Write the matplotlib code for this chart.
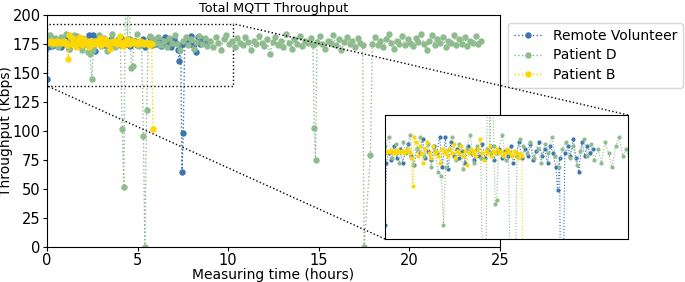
import matplotlib
matplotlib.use("Agg")
import matplotlib.pyplot as plt
from mpl_toolkits.axes_grid1.inset_locator import mark_inset

# ---------------- data ----------------
series_names = ["Remote Volunteer", "Patient D", "Patient B"]
series_colors = ["#3a75b0", "#8fbc8f", "#ffd700"]

rv_time = [0.0, 0.06, 0.15, 0.27, 0.39, 0.51, 0.63, 0.75, 0.87, 0.99, 1.11, 1.23, 1.35, 1.47,
           1.59, 1.71, 1.83, 1.95, 2.07, 2.19, 2.31, 2.43, 2.55, 2.67, 2.79, 2.91, 3.03, 3.15,
           3.27, 3.39, 3.51, 3.63, 3.75, 3.87, 3.99, 4.11, 4.23, 4.35, 4.47, 4.59, 4.71, 4.83,
           4.95, 5.07, 5.19, 5.31, 5.43, 5.55, 5.67, 5.79, 5.91, 6.03, 6.15, 6.27, 6.39, 6.51,
           6.63, 6.75, 6.87, 6.99, 7.11, 7.22, 7.3, 7.38, 7.45, 7.52, 7.6, 7.72, 7.84, 7.96,
           8.08, 8.2, 8.32, 8.44, 8.56, 8.68, 8.8]
rv_vals = [145, 172, 176, 173, 179, 174, 178, 172, 177, 180, 175, 171, 178, 176,
           182, 174, 177, 173, 179, 176, 183, 170, 183, 169, 181, 175, 178, 174,
           177, 172, 179, 176, 173, 178, 175, 180, 174, 177, 179, 173, 176, 178,
           174, 177, 175, 179, 172, 176, 181, 174, 178, 175, 180, 173, 177, 181,
           175, 178, 172, 179, 176, 170, 160, 174, 65, 98, 176, 179, 175, 182,
           174, 168, 181, 175, 179, 176, 178]

pd_time = [0.0, 0.15, 0.3, 0.45, 0.6, 0.75, 0.9, 1.05, 1.2, 1.35, 1.5, 1.65, 1.8, 1.95, 2.1, 2.25,
           2.38, 2.47, 2.56, 2.7, 2.85, 3.0, 3.15, 3.3, 3.45, 3.6, 3.75, 3.9, 4.05,
           4.15, 4.24, 4.3, 4.37, 4.44, 4.52, 4.6, 4.66, 4.72, 4.8, 4.95, 5.1, 5.22, 5.32, 5.4,
           5.5, 5.58, 5.7, 5.85,
           6.0, 6.15, 6.3, 6.45, 6.6, 6.75, 6.9, 7.05, 7.2, 7.35, 7.5, 7.65, 7.8, 7.95, 8.1,
           8.25, 8.4, 8.55, 8.7, 8.85, 9.0, 9.15, 9.3, 9.45, 9.6, 9.75, 9.9, 10.05, 10.2,
           10.35, 10.5, 10.65, 10.8, 10.95, 11.1, 11.25, 11.4, 11.55, 11.7, 11.85, 12.0,
           12.15, 12.3, 12.45, 12.6, 12.75, 12.9, 13.05, 13.2, 13.35, 13.5, 13.65, 13.8,
           13.95, 14.1, 14.25, 14.4, 14.55, 14.68, 14.75, 14.82, 14.9, 15.05, 15.2, 15.35,
           15.5, 15.65, 15.8, 15.95, 16.1, 16.25, 16.4, 16.55, 16.7, 16.85, 17.0, 17.15,
           17.3, 17.42, 17.5, 17.85, 17.95, 18.1, 18.25, 18.4, 18.55, 18.7, 18.85, 19.0,
           19.15, 19.3, 19.45, 19.6, 19.75, 19.9, 20.05, 20.2, 20.35, 20.5, 20.65, 20.8,
           20.95, 21.1, 21.25, 21.4, 21.55, 21.7, 21.85, 22.0, 22.15, 22.3, 22.45, 22.6,
           22.75, 22.9, 23.05, 23.2, 23.35, 23.5, 23.65, 23.8, 23.95]
pd_vals = [179, 183, 174, 180, 172, 181, 176, 184, 171, 178, 183, 175, 180, 170, 177, 168,
           166, 145, 170, 178, 183, 173, 180, 169, 178, 184, 172, 179, 174,
           102, 52, 178, 230, 176, 230, 179, 154, 156, 177, 184, 173, 177, 96, 0,
           118, 175, 182, 179,
           176, 181, 174, 178, 172, 180, 176, 183, 175, 170, 178, 181, 174, 179, 171,
           177, 182, 175, 180, 173, 178, 172, 181, 176, 170, 179, 183, 175, 178,
           172, 180, 176, 174, 181, 177, 170, 178, 175, 182, 176, 173,
           179, 166, 177, 181, 174, 178, 172, 184, 176, 171, 179, 175,
           182, 173, 178, 176, 180, 174, 103, 75, 177, 182, 175, 171,
           178, 176, 183, 174, 179, 170, 177, 181, 175, 178, 172, 180,
           176, 174, 0, 79, 175, 181, 174, 178, 172, 179, 184, 176,
           171, 178, 175, 182, 174, 179, 176, 173, 180, 177, 184, 175,
           170, 178, 183, 174, 179, 176, 181, 172, 178, 176, 183, 174,
           179, 175, 181, 173, 178, 176, 182, 175, 178]

pb_time = [0.0, 0.08, 0.16, 0.24, 0.32, 0.4, 0.48, 0.56, 0.64, 0.72, 0.8, 0.88, 0.96, 1.04,
           1.12, 1.18, 1.24, 1.3, 1.38, 1.46, 1.54, 1.62, 1.7, 1.78, 1.86, 1.94, 2.02, 2.1,
           2.18, 2.26, 2.34, 2.42, 2.5, 2.58, 2.66, 2.74, 2.82, 2.9, 2.98, 3.06, 3.14, 3.22,
           3.3, 3.38, 3.46, 3.54, 3.62, 3.7, 3.78, 3.86, 3.94, 4.02, 4.1, 4.18, 4.26, 4.34,
           4.42, 4.5, 4.58, 4.66, 4.74, 4.82, 4.9, 4.98, 5.06, 5.14, 5.22, 5.3, 5.38, 5.46,
           5.54, 5.62, 5.7, 5.78, 5.85]
pb_vals = [176, 177, 176.5, 177.5, 176, 177, 176, 177.5, 176.5, 177, 176, 177, 178, 176,
           174, 162, 183, 181, 175, 179, 176, 172, 178, 181, 176, 174, 179, 176,
           177, 175, 172, 178, 176, 177, 175, 178, 176, 180, 174, 177, 176, 179,
           175, 177, 171, 176, 178, 176, 177, 175, 178, 182, 176, 173, 177, 176,
           179, 175, 177, 176, 178, 176, 177, 175, 176, 178, 177, 176, 175, 177,
           176, 174, 176, 175, 102]

x_ticks = [0, 5, 10, 15, 20, 25]
y_ticks = [0, 25, 50, 75, 100, 125, 150, 175, 200]
zoom_xlim = (0, 10.27)
zoom_ylim = (139, 192.5)

# ---------------- figure ----------------
fig = plt.figure(figsize=(6.85, 2.82), dpi=100)
ax = fig.add_axes([0.0686, 0.1241, 0.6613, 0.8227])

all_series = [(rv_time, rv_vals), (pd_time, pd_vals), (pb_time, pb_vals)]
for (t, v), name, col in zip(all_series, series_names, series_colors):
    ax.plot(t, v, linestyle=":", marker="o", markersize=3.6, linewidth=1.0,
            color=col, label=name)

ax.set_xlim(0, 25)
ax.set_ylim(0, 200)
ax.set_xticks(x_ticks)
ax.set_yticks(y_ticks)
ax.tick_params(labelsize=10.5, length=3, pad=1.5)
ax.set_xlabel("Measuring time (hours)", fontsize=10, labelpad=0)
ax.set_ylabel("Throughput (Kbps)", fontsize=10, labelpad=0)
ax.set_title("Total MQTT Throughput", fontsize=9.2, pad=1.5)
ax.legend(loc="upper left", bbox_to_anchor=(1.0, 1.0), fontsize=10,
          borderaxespad=0.6, labelspacing=0.4)

axins = fig.add_axes([0.562, 0.1525, 0.3547, 0.4397])
for (t, v), name, col in zip(all_series, series_names, series_colors):
    axins.plot(t, v, linestyle=":", marker="o", markersize=2.0, linewidth=0.8,
               color=col)
axins.set_xlim(*zoom_xlim)
axins.set_ylim(*zoom_ylim)
axins.set_xticks([])
axins.set_yticks([])

mark_inset(ax, axins, loc1=1, loc2=3, fc="none", ec="black", ls=":", lw=1.0)

fig.savefig("out.png", dpi=100)
